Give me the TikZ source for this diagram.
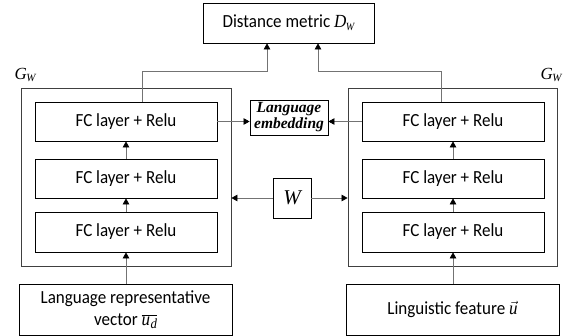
\documentclass[tikz,border=0pt]{standalone}
\usepackage{fontspec}
\usepackage{graphicx}
\setmainfont{Carlito}
\newfontfamily\tnr{Liberation Serif}
\usetikzlibrary{arrows.meta}
\newcommand\tsub[2]{{\tnr\itshape #1\kern-0.5pt\raisebox{-0.35ex}{\fontsize{11}{11}\selectfont #2}}}
\newcommand\nar[1]{\scalebox{0.92}[1]{#1}}
\begin{document}
\begin{tikzpicture}[x=1pt,y=-1pt,
  box/.style={draw=black, line width=0.8pt, inner sep=0pt, font=\fontsize{18.5}{21}\selectfont, align=center},
  outer/.style={draw=black!75, line width=0.8pt, inner sep=0pt},
  arr/.style={draw=black!55, line width=0.7pt, -{Triangle[length=6pt,width=6.5pt,color=black,fill=black]}},
  lbl/.style={inner sep=0pt, font=\fontsize{17}{17}\selectfont}]
\useasboundingbox (0,0) rectangle (569,336);

\node[box, minimum width=171pt, minimum height=40pt] (dist) at (288.5,23) {\nar{Distance metric \tsub{D}{W}}};

\node[outer, minimum width=210pt, minimum height=178pt] (oL) at (126,177) {};
\node[outer, minimum width=209pt, minimum height=178pt] (oR) at (452.5,177) {};

\node[lbl] (gL) at (25,75) {\tsub{G}{W}};
\node[lbl] (gR) at (551,75) {\tsub{G}{W}};

\node[box, minimum width=182pt, minimum height=39pt] (fcL1) at (126,121.5) {\nar{FC layer + Relu}};
\node[box, minimum width=182pt, minimum height=39pt] (fcL2) at (126,178.5) {\nar{FC layer + Relu}};
\node[box, minimum width=182pt, minimum height=40pt] (fcL3) at (126,232) {\nar{FC layer + Relu}};

\node[box, minimum width=182pt, minimum height=39pt] (fcR1) at (453,121.5) {\nar{FC layer + Relu}};
\node[box, minimum width=182pt, minimum height=39pt] (fcR2) at (453,178.5) {\nar{FC layer + Relu}};
\node[box, minimum width=182pt, minimum height=40pt] (fcR3) at (453,232) {\nar{FC layer + Relu}};

\node[box, minimum width=78pt, minimum height=35pt, font=\tnr\bfseries\itshape\fontsize{15.5}{16}\selectfont] (lang) at (289,117.5) {Language\\embedding};
\node[box, minimum width=38pt, minimum height=40pt, font=\tnr\itshape\fontsize{21}{21}\selectfont] (W) at (292,198) {W};

\node[box, minimum width=213pt, minimum height=51pt, font=\fontsize{18.5}{22}\selectfont] (botL) at (125.5,309.5) {\nar{Language representative}\\\nar{vector $\overline{\hbox{\tnr\itshape u\kern0.5pt\raisebox{-0.4ex}{\fontsize{14}{14}\selectfont d}}}$}};
\node[box, minimum width=213pt, minimum height=51pt] (botR) at (452.5,309.5) {\nar{Linguistic feature $\vec{\hbox{\tnr\itshape u}}$}};

% connectors
\draw[arr] ([xshift=16pt]fcL1.north) -- ++(0,-30) -| ([xshift=-21.5pt]dist.south);
\draw[arr] ([xshift=-12pt]fcR1.north) -- ++(0,-30) -| ([xshift=29.5pt]dist.south);

\draw[arr] (fcL1.east) -- (fcL1.east -| lang.west);
\draw[arr] (fcR1.west) -- (fcR1.west -| lang.east);

\draw[arr] (W.west) -- (W.west -| oL.east);
\draw[arr] (W.east) -- (W.east -| oR.west);

\draw[arr] (fcL2) -- (fcL1);
\draw[arr] (fcL3) -- (fcL2);
\draw[arr] (botL.north -| fcL3.south) -- (fcL3.south);
\draw[arr] (fcR2) -- (fcR1);
\draw[arr] (fcR3) -- (fcR2);
\draw[arr] (botR.north -| fcR3.south) -- (fcR3.south);
\end{tikzpicture}
\end{document}
